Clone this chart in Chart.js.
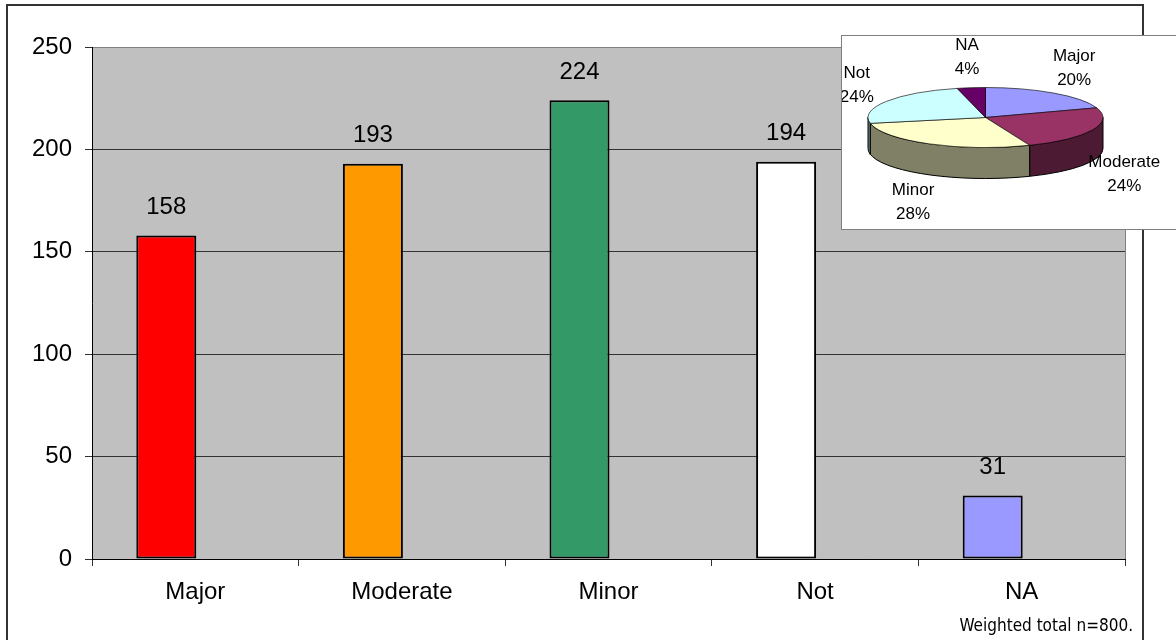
<!DOCTYPE html>
<html lang="en">
<head>
    <meta charset="UTF-8">
    <title>Impact Chart</title>
    <script src="https://cdn.jsdelivr.net/npm/chart.js"></script>
    <style>
        html, body { margin: 0; padding: 0; background: #fff; overflow: hidden; }
        #wrap { position: relative; width: 1176px; height: 640px; }
        #barBox { position: absolute; left: 0; top: 0; width: 1176px; height: 640px; }
        /* inset pie box, runs past the right edge like the original */
        #pieBox {
            position: absolute; left: 841px; top: 35px; width: 340px; height: 195px;
            box-sizing: border-box; border: 1px solid #7f7f7f; background: #fff;
        }
    </style>
</head>
<body>
<div id="wrap">
    <div id="barBox"><canvas id="barChart"></canvas></div>
    <div id="pieBox"><canvas id="pieChart"></canvas></div>
</div>

<script>
    // data
    const categories = ['Major', 'Moderate', 'Minor', 'Not', 'NA'];
    const counts = [158, 193, 224, 194, 31];
    const spacer = [null, null, null, null, null];   // empty 2nd series, pushes bars left like the original
    const barColors = ['#FF0000', '#FF9900', '#339966', '#FFFFFF', '#9999FF'];
    const pieColors = ['#9999FF', '#993366', '#FFFFCC', '#CCFFFF', '#660066'];
    const yMin = 0, yMax = 250, yStep = 50;
    const footnote = 'Weighted total n=800.';

    Chart.defaults.font.family = '"Liberation Sans", Arial, sans-serif';
    Chart.defaults.color = '#000';

    // background, plot fill, frame, value labels, footnote
    const barDecor = {
        id: 'barDecor',
        beforeDraw(chart) {
            const { ctx, chartArea: a } = chart;
            ctx.save();
            ctx.fillStyle = '#fff';
            ctx.fillRect(0, 0, chart.width, chart.height);
            ctx.fillStyle = '#C0C0C0';
            ctx.fillRect(a.left, a.top, a.right - a.left, a.bottom - a.top);
            ctx.restore();
        },
        afterDatasetsDraw(chart) {
            const { ctx } = chart;
            const meta = chart.getDatasetMeta(0);
            ctx.save();
            ctx.font = '24px "Liberation Sans", Arial, sans-serif';
            ctx.fillStyle = '#000';
            ctx.textAlign = 'center';
            ctx.textBaseline = 'middle';
            meta.data.forEach((bar, i) => {
                ctx.fillText(String(counts[i]), bar.x, bar.y - 28);
            });
            ctx.restore();
        },
        afterDraw(chart) {
            const { ctx, chartArea: a } = chart;
            ctx.save();
            // right edge of plot
            ctx.strokeStyle = '#808080';
            ctx.lineWidth = 1;
            ctx.beginPath();
            ctx.moveTo(a.right + 0.5, a.top);
            ctx.lineTo(a.right + 0.5, a.bottom);
            ctx.stroke();
            // outer frame
            ctx.strokeStyle = '#333';
            ctx.lineWidth = 2;
            ctx.strokeRect(7, 5, 1136, 660);
            // footnote
            ctx.font = '17px "DejaVu Sans Condensed", "DejaVu Sans", sans-serif';
            ctx.fillStyle = '#000';
            ctx.textAlign = 'right';
            ctx.textBaseline = 'middle';
            ctx.fillText(footnote, 1133, 627);
            ctx.restore();
        }
    };

    new Chart(document.getElementById('barChart'), {
        type: 'bar',
        data: {
            labels: categories,
            datasets: [{
                data: counts,
                backgroundColor: barColors,
                borderColor: '#000',
                borderWidth: 2,
                borderSkipped: false
            }, {
                data: spacer
            }]
        },
        options: {
            responsive: true,
            maintainAspectRatio: false,
            animation: false,
            events: [],
            skipNull: false,
            datasets: { bar: { categoryPercentage: 0.5615, barPercentage: 1.0345 } },
            layout: { padding: { left: 0, top: 47, right: 51, bottom: 0 } },
            plugins: { legend: { display: false }, tooltip: { enabled: false } },
            scales: {
                x: {
                    afterFit(axis) { axis.height = 81; },
                    grid: {
                        offset: true,
                        drawOnChartArea: false,
                        drawTicks: true,
                        tickLength: 7,
                        color: '#333'
                    },
                    border: { display: true, color: '#000', width: 1 },
                    ticks: { font: { size: 24 }, color: '#000', padding: 12 }
                },
                y: {
                    min: yMin,
                    max: yMax,
                    afterFit(axis) { axis.width = 92; },
                    grid: {
                        color: ctx => (ctx.tick && ctx.tick.value === yMax) ? '#808080' : '#333',
                        tickColor: '#333',
                        tickLength: 7,
                        lineWidth: 1
                    },
                    border: { display: true, color: '#000', width: 1 },
                    ticks: { stepSize: yStep, font: { size: 24 }, color: '#000', padding: 13 }
                }
            }
        },
        plugins: [barDecor]
    });

    // inset 3D-looking pie
    const tilt = 30 / 117.5;
    const depth = 31;

    function darker(hex) {
        const n = parseInt(hex.slice(1), 16);
        const r = Math.round(((n >> 16) & 255) * 0.5);
        const g = Math.round(((n >> 8) & 255) * 0.5);
        const b = Math.round((n & 255) * 0.5);
        return `rgb(${r},${g},${b})`;
    }

    const pie3d = {
        id: 'pie3d',
        beforeDatasetsDraw(chart) {
            const { ctx } = chart;
            const meta = chart.getDatasetMeta(0);
            const arcs = meta.data;
            if (!arcs.length) return false;
            const cx = arcs[0].x, cy = arcs[0].y;
            const rx = arcs[0].outerRadius, ry = rx * tilt;

            // side walls of the front half
            ctx.save();
            ctx.lineWidth = 1;
            ctx.strokeStyle = '#000';
            arcs.forEach((arc, i) => {
                [[0, Math.PI], [2 * Math.PI, 3 * Math.PI]].forEach(([lo, hi]) => {
                    const s = Math.max(arc.startAngle, lo);
                    const e = Math.min(arc.endAngle, hi);
                    if (e <= s) return;
                    ctx.beginPath();
                    ctx.ellipse(cx, cy, rx, ry, 0, s, e, false);
                    ctx.ellipse(cx, cy + depth, rx, ry, 0, e, s, true);
                    ctx.closePath();
                    ctx.fillStyle = darker(pieColors[i]);
                    ctx.fill();
                    ctx.stroke();
                });
            });
            ctx.restore();

            // top face: library arcs squashed into an ellipse
            ctx.save();
            ctx.translate(cx, cy);
            ctx.scale(1, tilt);
            ctx.translate(-cx, -cy);
            arcs.forEach(arc => arc.draw(ctx));
            ctx.restore();

            // labels
            const values = chart.data.datasets[0].data;
            const total = values.reduce((p, v) => p + v, 0);
            ctx.save();
            ctx.font = '17px "Liberation Sans", Arial, sans-serif';
            ctx.fillStyle = '#000';
            ctx.textAlign = 'center';
            ctx.textBaseline = 'middle';
            arcs.forEach((arc, i) => {
                const mid = (arc.startAngle + arc.endAngle) / 2;
                const sn = Math.sin(mid);
                const lx = cx + Math.cos(mid) * (rx + 35);
                const ly = cy + sn * (ry + 31) + (sn > 0 ? depth : 0);
                ctx.fillText(chart.data.labels[i], lx, ly - 12);
                ctx.fillText(Math.round(values[i] / total * 100) + '%', lx, ly + 12);
            });
            ctx.restore();
            return false;
        }
    };

    new Chart(document.getElementById('pieChart'), {
        type: 'pie',
        data: {
            labels: categories,
            datasets: [{
                data: counts,
                backgroundColor: pieColors,
                borderColor: '#000',
                borderWidth: 1,
                radius: 117.5
            }]
        },
        options: {
            responsive: true,
            maintainAspectRatio: false,
            animation: false,
            events: [],
            layout: { padding: { left: 0, right: 51, top: 0, bottom: 30 } },
            plugins: { legend: { display: false }, tooltip: { enabled: false } }
        },
        plugins: [pie3d]
    });
</script>
</body>
</html>
